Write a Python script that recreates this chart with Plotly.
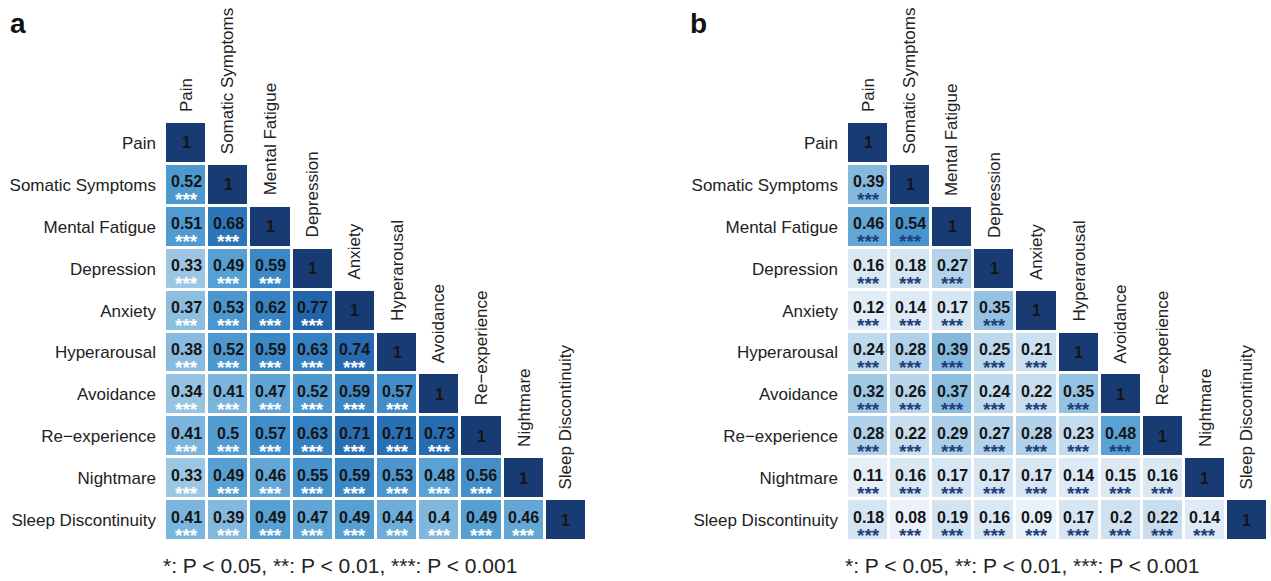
import plotly.graph_objects as go

labels = ["Pain", "Somatic Symptoms", "Mental Fatigue", "Depression", "Anxiety",
          "Hyperarousal", "Avoidance", "Re\u2212experience", "Nightmare", "Sleep Discontinuity"]

# lower-triangle correlations, row by row (row i has i values before diagonal)
corr_a = [
    [],
    [0.52],
    [0.51, 0.68],
    [0.33, 0.49, 0.59],
    [0.37, 0.53, 0.62, 0.77],
    [0.38, 0.52, 0.59, 0.63, 0.74],
    [0.34, 0.41, 0.47, 0.52, 0.59, 0.57],
    [0.41, 0.5, 0.57, 0.63, 0.71, 0.71, 0.73],
    [0.33, 0.49, 0.46, 0.55, 0.59, 0.53, 0.48, 0.56],
    [0.41, 0.39, 0.49, 0.47, 0.49, 0.44, 0.4, 0.49, 0.46],
]
corr_b = [
    [],
    [0.39],
    [0.46, 0.54],
    [0.16, 0.18, 0.27],
    [0.12, 0.14, 0.17, 0.35],
    [0.24, 0.28, 0.39, 0.25, 0.21],
    [0.32, 0.26, 0.37, 0.24, 0.22, 0.35],
    [0.28, 0.22, 0.29, 0.27, 0.28, 0.23, 0.48],
    [0.11, 0.16, 0.17, 0.17, 0.17, 0.14, 0.15, 0.16],
    [0.18, 0.08, 0.19, 0.16, 0.09, 0.17, 0.2, 0.22, 0.14],
]
stars_label = "***"
panel_letters = ["a", "b"]
footer = "*: P < 0.05, **: P < 0.01, ***: P < 0.001"

colorscale = [
    [0.0, "#f5f9fd"],
    [0.1, "#e8f0f8"],
    [0.2, "#d0e2f1"],
    [0.3, "#a8cde7"],
    [0.4, "#80b7dd"],
    [0.5, "#529dd2"],
    [0.6, "#3a86c5"],
    [0.7, "#2a71b6"],
    [0.8, "#1f5ea5"],
    [0.9, "#1a4b8c"],
    [1.0, "#173b72"],
]

n = len(labels)
font_family = "Liberation Sans, Arial, sans-serif"
W, H = 1271, 581
fig = go.Figure()
annotations = []

panels = [
    (corr_a, "x", "y", [165 / W, 587 / W], "white", 0),
    (corr_b, "x2", "y2", [847 / W, 1268 / W], "#1f3f7a", 1),
]
ydom = [1 - 541 / H, 1 - 122 / H]

for corr, xa, ya, xdom, starcol, k in panels:
    z = []
    for i in range(n):
        row = []
        for j in range(n):
            if j < i:
                row.append(corr[i][j])
            elif j == i:
                row.append(1.0)
            else:
                row.append(None)
        z.append(row)
    fig.add_trace(go.Heatmap(
        z=z, x=list(range(n)), y=list(range(n)),
        colorscale=colorscale, zmin=0, zmax=1, showscale=False,
        xgap=3, ygap=3, xaxis=xa, yaxis=ya, hoverongaps=False,
    ))
    for i in range(n):
        for j in range(i + 1):
            v = 1 if i == j else corr[i][j]
            txt = "1" if i == j else ("%g" % v)
            annotations.append(dict(
                x=j, y=i, xref=xa, yref=ya, text="<b>%s</b>" % txt, showarrow=False,
                font=dict(family=font_family, size=16, color="#151515"),
                yshift=3 if i != j else 0,
            ))
            if i != j:
                annotations.append(dict(
                    x=j, y=i, xref=xa, yref=ya, text="<b>%s</b>" % stars_label,
                    showarrow=False,
                    font=dict(family=font_family, size=19, color=starcol),
                    yshift=-15,
                ))
        # column label above diagonal cell
        annotations.append(dict(
            x=i, y=i - 0.5, xref=xa, yref=ya, text=labels[i], showarrow=False,
            textangle=-90, xanchor="center", yanchor="bottom", yshift=8,
            font=dict(family=font_family, size=17, color="#222"),
        ))
    # panel letter
    annotations.append(dict(
        x=(8 if k == 0 else 688) / W, y=1 - 6 / H, xref="paper", yref="paper",
        text="<b>%s</b>" % panel_letters[k], showarrow=False, xanchor="left", yanchor="top",
        font=dict(family=font_family, size=28, color="#111"),
    ))
    # footer
    annotations.append(dict(
        x=xdom[0] - 4 / W, y=1 - 565 / H, xref="paper", yref="paper",
        text=footer, showarrow=False, xanchor="left", yanchor="middle",
        font=dict(family=font_family, size=21, color="#222"),
    ))

axis_common_x = dict(range=[-0.5, n - 0.5], showticklabels=False, showgrid=False,
                     zeroline=False, showline=False, ticks="")
axis_common_y = dict(range=[n - 0.5, -0.5], tickvals=list(range(n)), ticktext=labels,
                     showgrid=False, zeroline=False, showline=False, ticks="",
                     ticklabelstandoff=8,
                     tickfont=dict(family=font_family, size=17, color="#222"))

fig.update_layout(
    width=W, height=H,
    margin=dict(l=0, r=0, t=0, b=0),
    paper_bgcolor="white", plot_bgcolor="white",
    xaxis=dict(domain=panels[0][3], anchor="y", **axis_common_x),
    yaxis=dict(domain=ydom, anchor="x", **axis_common_y),
    xaxis2=dict(domain=panels[1][3], anchor="y2", **axis_common_x),
    yaxis2=dict(domain=ydom, anchor="x2", **axis_common_y),
    annotations=annotations,
    showlegend=False,
)

fig.write_html("out.html", config={"displayModeBar": False},
               post_script="document.body.style.margin='0';document.body.style.overflow='hidden';")
